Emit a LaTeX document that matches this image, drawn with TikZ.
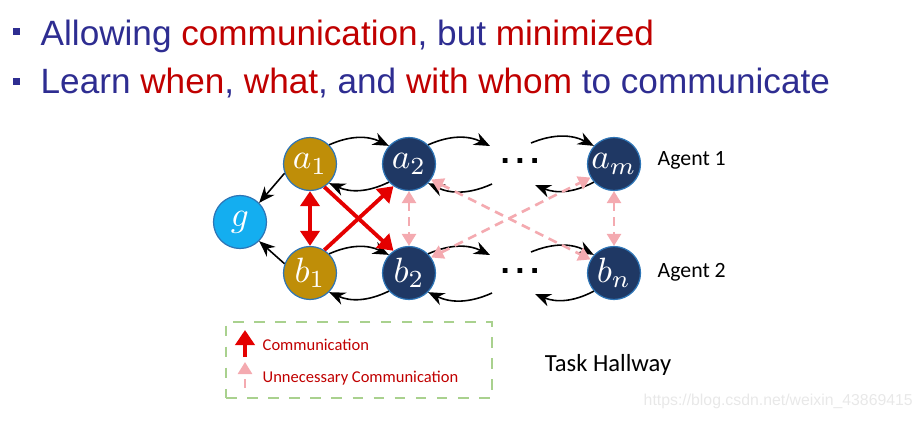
\documentclass[tikz,border=0pt]{standalone}
\usepackage{fontspec}
\setmainfont{Liberation Sans}
\newfontfamily\calib{Carlito}
\usepackage{xcolor}
\usetikzlibrary{arrows.meta}

\definecolor{hdblue}{RGB}{46,45,145}
\definecolor{hdred}{RGB}{192,0,0}
\definecolor{gold}{RGB}{191,142,8}
\definecolor{navy}{RGB}{31,56,100}
\definecolor{skyb}{RGB}{20,174,240}
\definecolor{rim}{RGB}{46,117,182}
\definecolor{commred}{RGB}{228,0,0}
\definecolor{pinkc}{RGB}{244,170,176}
\definecolor{legendgreen}{RGB}{169,209,142}

\begin{document}
\begin{tikzpicture}
    \tikzstyle{S}=[circle,draw=rim,line width=0.35pt,minimum size=5.3mm,inner sep=0pt,font=\fontsize{10}{10}\selectfont]
    \tikzstyle{A}=[S,fill=gold,text=white]
    \tikzstyle{N}=[S,fill=navy,text=white]
    \tikzstyle{G}=[S,fill=skyb,text=white]
    \tikzstyle{mv}=[line width=0.45pt,-{Stealth[length=1.6mm,width=1.3mm]}]
    \tikzstyle{comm}=[commred,line width=1.1pt,-{Triangle[length=1.5mm,width=1.9mm]}]
    \tikzstyle{comm2}=[commred,line width=1.1pt,{Triangle[length=1.5mm,width=1.9mm]}-{Triangle[length=1.5mm,width=1.9mm]}]
    \tikzstyle{unn}=[pinkc,line width=0.75pt,dash pattern=on 0.9mm off 0.6mm,-{Triangle[length=1.2mm,width=1.4mm]}]
    \tikzstyle{unn2}=[pinkc,line width=0.75pt,dash pattern=on 0.9mm off 0.6mm,{Triangle[length=1.2mm,width=1.4mm]}-{Triangle[length=1.2mm,width=1.4mm]}]
    \tikzstyle{agent}=[font=\calib\fontsize{6.2}{6.5}\selectfont,anchor=west,inner sep=0pt]

    \useasboundingbox (0,0) rectangle (9.24,4.21);

    % Header
    \node [fill=hdblue,minimum size=0.7mm,inner sep=0pt] (bullet1) at (0.165,3.895) {};
    \node [fill=hdblue,minimum size=0.7mm,inner sep=0pt] (bullet2) at (0.165,3.40) {};
    \node [anchor=base west,inner sep=0pt,font=\fontsize{10}{10}\selectfont,text=hdblue] (line1) at (0.40,3.76)
        {Allowing \textcolor{hdred}{communication}, but \textcolor{hdred}{minimized}};
    \node [anchor=base west,inner sep=0pt,font=\fontsize{10}{10}\selectfont,text=hdblue] (line2) at (0.40,3.28)
        {Learn \textcolor{hdred}{when}, \textcolor{hdred}{what}, and \textcolor{hdred}{with whom} to communicate};

    % Agents
    \node [G] (g)  at (2.40,1.99) {$g$};
    \node [A] (a1) at (3.10,2.57) {$a_1$};
    \node [N] (a2) at (4.09,2.57) {$a_2$};
    \node [N] (am) at (6.14,2.57) {$a_m$};
    \node [A] (b1) at (3.10,1.48) {$b_1$};
    \node [N] (b2) at (4.09,1.48) {$b_2$};
    \node [N] (bn) at (6.14,1.48) {$b_n$};

    \node [font=\fontsize{9.5}{9}\selectfont\bfseries] (dotsa) at (5.20,2.60) {.\,.\,.};
    \node [font=\fontsize{9.5}{9}\selectfont\bfseries] (dotsb) at (5.20,1.50) {.\,.\,.};

    \node [agent] (agent1) at (6.57,2.61) {Agent 1};
    \node [agent] (agent2) at (6.57,1.49) {Agent 2};

    \coordinate (ua1) at (4.90,2.75);
    \coordinate (ua2) at (5.31,2.78);
    \coordinate (la1) at (5.35,2.36);
    \coordinate (la2) at (4.92,2.37);
    \coordinate (ub1) at (4.90,1.66);
    \coordinate (ub2) at (5.31,1.69);
    \coordinate (lb1) at (5.35,1.27);
    \coordinate (lb2) at (4.92,1.28);

    % moves along the hallway
    \draw [mv] (a1.45) to [bend left=25] (a2.138);
    \draw [mv] (a2.222) to [bend left=25] (a1.315);
    \draw [mv] (a2.45) to [bend left=25] (ua1);
    \draw [mv] (ua2) to [bend left=25] (am.138);
    \draw [mv] (am.222) to [bend left=25] (la1);
    \draw [mv] (la2) to [bend left=25] (a2.315);
    \draw [mv] (b1.45) to [bend left=25] (b2.138);
    \draw [mv] (b2.222) to [bend left=25] (b1.315);
    \draw [mv] (b2.45) to [bend left=25] (ub1);
    \draw [mv] (ub2) to [bend left=25] (bn.138);
    \draw [mv] (bn.222) to [bend left=25] (lb1);
    \draw [mv] (lb2) to [bend left=25] (b2.315);

    \draw [mv] (a1.200) -- (g.45);
    \draw [mv] (b1.160) -- (g.-45);

    % communication
    \draw [comm2] (a1.south) -- (b1.north);
    \draw [comm] (b1.58) -- (a2.235);
    \draw [comm] (a1.-58) -- (b2.125);

    % unnecessary communication
    \draw [unn2] (a2.south) -- (b2.north);
    \draw [unn2] (a2.-35) -- (bn.150);
    \draw [unn2] (b2.35) -- (am.210);
    \draw [unn2] (am.south) -- (bn.north);

    % Legend
    \node [draw=legendgreen,dashed,line width=0.35pt,minimum width=2.66cm,minimum height=0.76cm,inner sep=0pt] (legend) at (3.59,0.61) {};
    \coordinate (c1) at (2.45,0.64);
    \coordinate (c2) at (2.45,0.91);
    \coordinate (u1) at (2.45,0.33);
    \coordinate (u2) at (2.45,0.59);
    \draw [comm] (c1) -- (c2);
    \draw [unn] (u1) -- (u2);
    \node [agent,font=\calib\fontsize{4.7}{5}\selectfont,text=hdred] (lcomm) at (2.62,0.76) {Communication};
    \node [agent,font=\calib\fontsize{4.7}{5}\selectfont,text=hdred] (lunn) at (2.62,0.43) {Unnecessary Communication};

    \node [font=\calib\fontsize{7}{7}\selectfont,inner sep=0pt] (task) at (6.08,0.56) {Task Hallway};

    \node [anchor=west,inner sep=0pt,text=gray!18,font=\fontsize{4.5}{5}\selectfont] (wm) at (6.43,0.20) {https://blog.csdn.net/weixin\_43869415};
\end{tikzpicture}
\end{document}
